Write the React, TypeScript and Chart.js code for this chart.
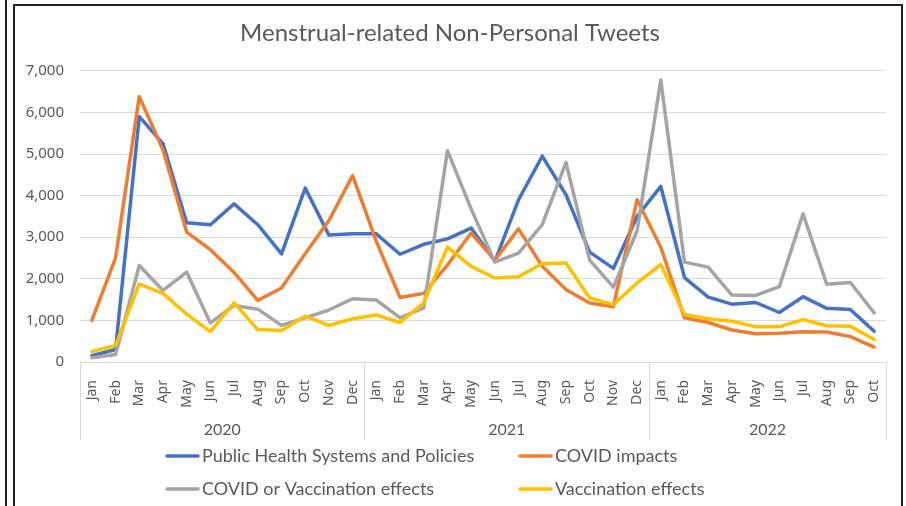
import React, { useEffect, useRef } from "react";
import { Chart, registerables } from "chart.js";

Chart.register(...registerables);

const monthLabels = [
  "Jan", "Feb", "Mar", "Apr", "May", "Jun", "Jul", "Aug", "Sep", "Oct", "Nov", "Dec",
  "Jan", "Feb", "Mar", "Apr", "May", "Jun", "Jul", "Aug", "Sep", "Oct", "Nov", "Dec",
  "Jan", "Feb", "Mar", "Apr", "May", "Jun", "Jul", "Aug", "Sep", "Oct",
];
const years = ["2020", "2021", "2022"];
const monthsPerYear = [12, 12, 10];

const yTicks = [0, 1000, 2000, 3000, 4000, 5000, 6000, 7000];

const seriesNames = [
  "Public Health Systems and Policies",
  "COVID impacts",
  "COVID or Vaccination effects",
  "Vaccination effects",
];
const seriesColors = ["#4472C4", "#ED7D31", "#A5A5A5", "#FFC000"];

const publicHealth = [
  150, 300, 5900, 5250, 3350, 3300, 3800, 3300, 2600, 4180, 3050, 3080,
  3080, 2590, 2830, 2960, 3220, 2420, 3900, 4950, 4020, 2640, 2250, 3500,
  4220, 2030, 1560, 1390, 1430, 1190, 1570, 1290, 1260, 740,
];
const covidImpacts = [
  1000, 2500, 6380, 5100, 3120, 2700, 2150, 1480, 1780, 2600, 3400, 4480,
  2900, 1550, 1650, 2330, 3100, 2450, 3200, 2300, 1740, 1420, 1330, 3900,
  2760, 1060, 950, 770, 680, 690, 730, 720, 610, 360,
];
const covidOrVaccination = [
  100, 180, 2320, 1720, 2160, 940, 1360, 1270, 880, 1060, 1250, 1520,
  1490, 1060, 1300, 5080, 3680, 2400, 2620, 3300, 4800, 2450, 1800, 3150,
  6780, 2400, 2280, 1610, 1600, 1810, 3560, 1870, 1910, 1180,
];
const vaccination = [
  250, 400, 1870, 1650, 1150, 730, 1420, 780, 760, 1100, 880, 1040,
  1130, 950, 1420, 2760, 2300, 2020, 2050, 2370, 2380, 1540, 1380, 1900,
  2340, 1140, 1040, 980, 850, 850, 1020, 870, 860, 540,
];
const seriesValues = [publicHealth, covidImpacts, covidOrVaccination, vaccination];

const TEXT = "#595959";
const GRID = "#D9D9D9";

const yearGroupPlugin = {
  id: "yearGroups",
  afterDraw(chart: any) {
    const x = chart.scales.x;
    const ctx = chart.ctx;
    const area = chart.chartArea;
    const half = (x.getPixelForValue(1) - x.getPixelForValue(0)) / 2;
    const top = area.bottom;
    const bottom = area.bottom + 78;
    ctx.save();
    ctx.strokeStyle = GRID;
    ctx.lineWidth = 1;
    let start = 0;
    const bounds: number[] = [];
    years.forEach((yr, gi) => {
      const n = monthsPerYear[gi];
      const left = x.getPixelForValue(start) - half;
      const right = x.getPixelForValue(start + n - 1) + half;
      bounds.push(left, right);
      ctx.fillStyle = TEXT;
      ctx.font = "16px Lato";
      ctx.textAlign = "center";
      ctx.textBaseline = "middle";
      ctx.fillText(yr, (left + right) / 2, area.bottom + 68);
      start += n;
    });
    const uniq = Array.from(new Set(bounds.map((b) => Math.round(b))));
    uniq.forEach((b) => {
      ctx.beginPath();
      ctx.moveTo(b + 0.5, top);
      ctx.lineTo(b + 0.5, bottom);
      ctx.stroke();
    });
    ctx.restore();
  },
};

const legendPlugin = {
  id: "gridLegend",
  afterDraw(chart: any) {
    const ctx = chart.ctx;
    const area = chart.chartArea;
    const cols = [165, 518];
    const rows = [area.bottom + 94, area.bottom + 127];
    ctx.save();
    ctx.font = "18px Lato";
    ctx.textBaseline = "middle";
    ctx.textAlign = "left";
    seriesNames.forEach((name, i) => {
      const cx = cols[i % 2];
      const cy = rows[Math.floor(i / 2)];
      ctx.strokeStyle = seriesColors[i];
      ctx.lineWidth = 3.5;
      ctx.lineCap = "round";
      ctx.beginPath();
      ctx.moveTo(cx + 2, cy);
      ctx.lineTo(cx + 33, cy);
      ctx.stroke();
      ctx.fillStyle = TEXT;
      ctx.fillText(name, cx + 37, cy);
    });
    ctx.restore();
  },
};

export default function App() {
  const canvasRef = useRef<HTMLCanvasElement | null>(null);

  useEffect(() => {
    if (!canvasRef.current) return;
    const chart = new Chart(canvasRef.current, {
      type: "line",
      data: {
        labels: monthLabels,
        datasets: seriesNames.map((name, i) => ({
          label: name,
          data: seriesValues[i],
          borderColor: seriesColors[i],
          backgroundColor: seriesColors[i],
          borderWidth: 3.5,
          pointRadius: 0,
          tension: 0,
          borderCapStyle: "round" as const,
          borderJoinStyle: "round" as const,
          order: seriesNames.length - i,
        })),
      },
      options: {
        responsive: false,
        animation: false,
        layout: { padding: { left: 14, right: 20, top: 6, bottom: 66 } },
        plugins: {
          legend: { display: false },
          tooltip: { enabled: false },
          title: {
            display: true,
            text: "Menstrual-related Non-Personal Tweets",
            color: TEXT,
            font: { family: "Lato", size: 24, weight: "normal" },
            padding: { top: 13, bottom: 23 },
          },
        },
        scales: {
          x: {
            type: "category",
            offset: true,
            grid: { display: false },
            border: { display: false },
            ticks: {
              autoSkip: false,
              minRotation: 90,
              maxRotation: 90,
              padding: 10,
              color: TEXT,
              font: { family: "Noto Sans", size: 14 },
            },
            afterFit(scale: any) {
              scale.height = 78;
            },
          },
          y: {
            min: yTicks[0],
            max: yTicks[yTicks.length - 1],
            afterBuildTicks(scale: any) {
              scale.ticks = yTicks.map((v) => ({ value: v }));
            },
            grid: { color: GRID, lineWidth: 1, drawTicks: false },
            border: { display: false },
            ticks: {
              padding: 16,
              color: TEXT,
              font: { family: "Noto Sans", size: 15 },
              callback: (v: any) => Number(v).toLocaleString("en-US"),
            },
            afterFit(scale: any) {
              scale.width = 66;
            },
          },
        },
      },
      plugins: [yearGroupPlugin, legendPlugin],
    });
    return () => chart.destroy();
  }, []);

  return (
    <div
      style={{
        position: "fixed",
        left: 0,
        top: 0,
        width: 906,
        height: 506,
        overflow: "hidden",
        background: "#fff",
      }}
    >
      <canvas
        ref={canvasRef}
        width={906}
        height={506}
        style={{ position: "absolute", left: 0, top: 0, width: 906, height: 506 }}
      />
      <div
        style={{
          position: "absolute",
          left: 5,
          top: 0,
          width: 2,
          height: 506,
          background: "#222",
        }}
      />
      <div
        style={{
          position: "absolute",
          left: 13,
          top: 4,
          width: 886,
          height: 600,
          border: "2px solid #222",
          pointerEvents: "none",
        }}
      />
    </div>
  );
}
